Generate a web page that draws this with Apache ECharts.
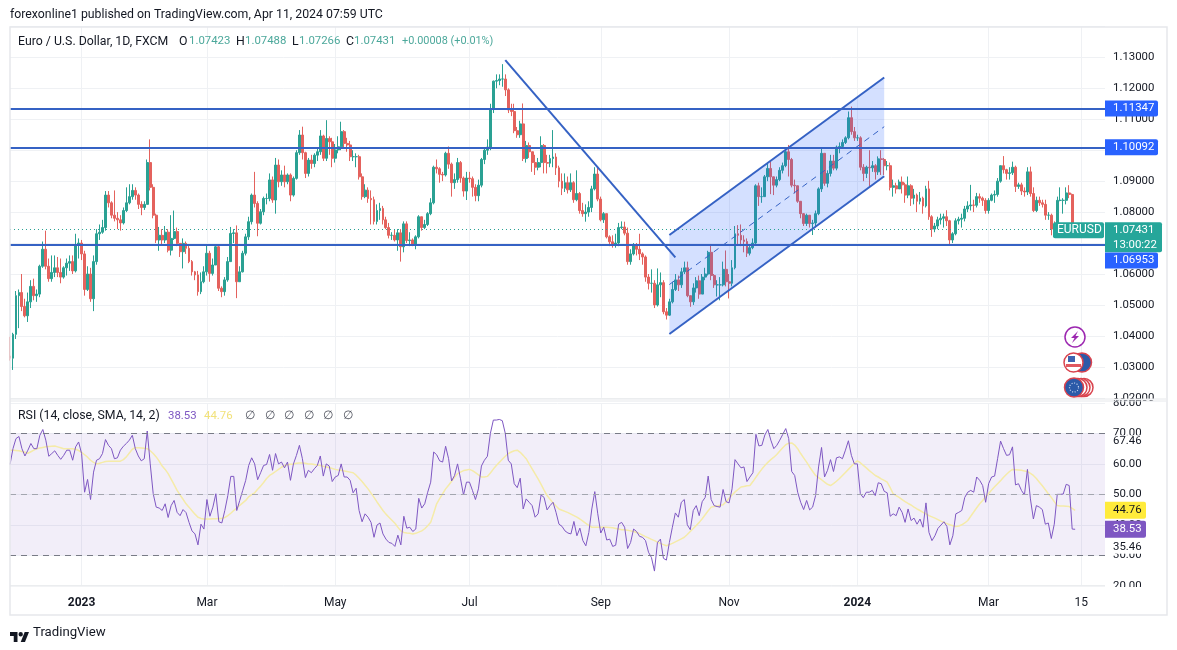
<!DOCTYPE html>
<html>
<head>
<meta charset="utf-8">
<title>EURUSD</title>
<style>
  html, body { margin: 0; padding: 0; background: #fff; }
  #main { width: 1177px; height: 650px; }
</style>
<script src="https://cdn.jsdelivr.net/npm/echarts@6/dist/echarts.min.js"></script>
</head>
<body>
<div id="main"></div>
<script>
// daily bars, first one is 2022-11-29
const opens = [
  1.0335,1.0328,1.0405,1.0530,1.0540,1.0495,1.0465,1.0510,1.0560,1.0530,
  1.0535,1.0625,1.0680,1.0625,1.0585,1.0605,1.0620,1.0605,1.0590,1.0620,
  1.0635,1.0640,1.0610,1.0695,1.0700,1.0665,1.0550,1.0600,1.0520,1.0640,
  1.0730,1.0735,1.0750,1.0855,1.0830,1.0790,1.0780,1.0775,1.0765,1.0805,
  1.0830,1.0850,1.0870,1.0855,1.0825,1.0815,1.0825,1.0960,1.0880,1.0790,
  1.0710,1.0725,1.0710,1.0735,1.0677,1.0715,1.0737,1.0699,1.0672,1.0699,
  1.0683,1.0640,1.0607,1.0597,1.0543,1.0575,1.0607,1.0667,1.0602,1.0629,
  1.0688,1.0554,1.0543,1.0581,1.0640,1.0731,1.0733,1.0575,1.0607,1.0667,
  1.0720,1.0769,1.0855,1.0828,1.0764,1.0801,1.0844,1.0844,1.0904,1.0839,
  1.0952,1.0898,1.0920,1.0898,1.0920,1.0855,1.0909,1.0992,1.1049,1.0992,
  1.0925,1.0968,1.0957,1.0984,1.0995,1.1046,1.0974,1.1038,1.1027,1.0974,
  1.1001,1.1011,1.1060,1.1022,1.1017,1.0979,1.0979,1.0979,1.0914,1.0850,
  1.0871,1.0844,1.0840,1.0770,1.0805,1.0812,1.0775,1.0750,1.0725,1.0725,
  1.0710,1.0733,1.0688,1.0762,1.0708,1.0710,1.0695,1.0720,1.0785,1.0750,
  1.0760,1.0795,1.0830,1.0945,1.0940,1.0922,1.0920,1.0990,1.0955,1.0895,
  1.0905,1.0960,1.0910,1.0868,1.0910,1.0908,1.0880,1.0853,1.0887,1.0970,
  1.1000,1.1010,1.1132,1.1223,1.1225,1.1230,1.1230,1.1195,1.1130,1.1125,
  1.1063,1.1050,1.1085,1.0973,1.1015,1.0995,1.0960,1.0945,1.0960,1.1015,
  1.0960,1.0958,1.0973,1.0978,1.0943,1.0900,1.0877,1.0895,1.0872,1.0895,
  1.0840,1.0860,1.0805,1.0795,1.0800,1.0815,1.0875,1.0923,1.0842,1.0775,
  1.0795,1.0720,1.0704,1.0695,1.0700,1.0750,1.0752,1.0732,1.0640,1.0665,
  1.0695,1.0680,1.0665,1.0655,1.0590,1.0570,1.0570,1.0500,1.0565,1.0572,
  1.0478,1.0467,1.0510,1.0550,1.0581,1.0565,1.0607,1.0620,1.0530,1.0510,
  1.0555,1.0578,1.0535,1.0590,1.0600,1.0670,1.0595,1.0565,1.0565,1.0565,
  1.0615,1.0575,1.0570,1.0620,1.0730,1.0725,1.0710,1.0705,1.0667,1.0685,
  1.0700,1.0885,1.0850,1.0850,1.0914,1.0941,1.0914,1.0887,1.0905,1.0935,
  1.0950,1.0995,1.0970,1.0887,1.0885,1.0835,1.0795,1.0763,1.0790,1.0763,
  1.0765,1.0795,1.0875,1.0990,1.0893,1.0925,1.0965,1.0942,1.1010,1.1012,
  1.1025,1.1040,1.1105,1.1060,1.1040,1.1040,1.0945,1.0925,1.0945,1.0943,
  1.0950,1.0930,1.0972,1.0970,1.0950,1.0950,1.0880,1.0885,1.0875,1.0897,
  1.0888,1.0855,1.0885,1.0845,1.0855,1.0835,1.0845,1.0820,1.0875,1.0785,
  1.0745,1.0755,1.0775,1.0780,1.0785,1.0772,1.0710,1.0730,1.0772,1.0777,
  1.0780,1.0810,1.0820,1.0823,1.0822,1.0850,1.0845,1.0838,1.0805,1.0838,
  1.0855,1.0857,1.0900,1.0950,1.0937,1.0925,1.0927,1.0945,1.0883,1.0888,
  1.0868,1.0865,1.0930,1.0860,1.0805,1.0838,1.0830,1.0825,1.0790,1.0790,
  1.0745,1.0742,1.0838,1.0838,1.0838,1.0862,1.0857,1.07423
];
const closes = [
  1.0328,1.0405,1.0530,1.0540,1.0495,1.0465,1.0510,1.0560,1.0530,1.0535,
  1.0625,1.0680,1.0625,1.0585,1.0605,1.0620,1.0605,1.0590,1.0620,1.0635,
  1.0640,1.0610,1.0695,1.0700,1.0665,1.0550,1.0600,1.0520,1.0640,1.0730,
  1.0735,1.0750,1.0855,1.0830,1.0790,1.0780,1.0775,1.0765,1.0805,1.0830,
  1.0850,1.0870,1.0855,1.0825,1.0815,1.0825,1.0960,1.0880,1.0790,1.0710,
  1.0725,1.0710,1.0735,1.0677,1.0715,1.0737,1.0699,1.0672,1.0699,1.0683,
  1.0640,1.0607,1.0597,1.0543,1.0575,1.0607,1.0667,1.0602,1.0629,1.0688,
  1.0554,1.0543,1.0581,1.0640,1.0731,1.0733,1.0575,1.0607,1.0667,1.0720,
  1.0769,1.0855,1.0828,1.0764,1.0801,1.0844,1.0844,1.0904,1.0839,1.0952,
  1.0898,1.0920,1.0898,1.0920,1.0855,1.0909,1.0992,1.1049,1.0992,1.0925,
  1.0968,1.0957,1.0984,1.0995,1.1046,1.0974,1.1038,1.1027,1.0974,1.1001,
  1.1011,1.1060,1.1022,1.1017,1.0979,1.0979,1.0979,1.0914,1.0850,1.0871,
  1.0844,1.0840,1.0770,1.0805,1.0812,1.0775,1.0750,1.0725,1.0725,1.0710,
  1.0733,1.0688,1.0762,1.0708,1.0710,1.0695,1.0720,1.0785,1.0750,1.0760,
  1.0795,1.0830,1.0945,1.0940,1.0922,1.0920,1.0990,1.0955,1.0895,1.0905,
  1.0960,1.0910,1.0868,1.0910,1.0908,1.0880,1.0853,1.0887,1.0970,1.1000,
  1.1010,1.1132,1.1223,1.1225,1.1230,1.1230,1.1195,1.1130,1.1125,1.1063,
  1.1050,1.1085,1.0973,1.1015,1.0995,1.0960,1.0945,1.0960,1.1015,1.0960,
  1.0958,1.0973,1.0978,1.0943,1.0900,1.0877,1.0895,1.0872,1.0895,1.0840,
  1.0860,1.0805,1.0795,1.0800,1.0815,1.0875,1.0923,1.0842,1.0775,1.0795,
  1.0720,1.0704,1.0695,1.0700,1.0750,1.0752,1.0732,1.0640,1.0665,1.0695,
  1.0680,1.0665,1.0655,1.0590,1.0570,1.0570,1.0500,1.0565,1.0572,1.0478,
  1.0467,1.0510,1.0550,1.0581,1.0565,1.0607,1.0620,1.0530,1.0510,1.0555,
  1.0578,1.0535,1.0590,1.0600,1.0670,1.0595,1.0565,1.0565,1.0565,1.0615,
  1.0575,1.0570,1.0620,1.0730,1.0725,1.0710,1.0705,1.0667,1.0685,1.0700,
  1.0885,1.0850,1.0850,1.0914,1.0941,1.0914,1.0887,1.0905,1.0935,1.0950,
  1.0995,1.0970,1.0887,1.0885,1.0835,1.0795,1.0763,1.0790,1.0763,1.0765,
  1.0795,1.0875,1.0990,1.0893,1.0925,1.0965,1.0942,1.1010,1.1012,1.1025,
  1.1040,1.1105,1.1060,1.1040,1.1040,1.0945,1.0925,1.0945,1.0943,1.0950,
  1.0930,1.0972,1.0970,1.0950,1.0950,1.0880,1.0885,1.0875,1.0897,1.0888,
  1.0855,1.0885,1.0845,1.0855,1.0835,1.0845,1.0820,1.0875,1.0785,1.0745,
  1.0755,1.0775,1.0780,1.0785,1.0772,1.0710,1.0730,1.0772,1.0777,1.0780,
  1.0810,1.0820,1.0823,1.0822,1.0850,1.0845,1.0838,1.0805,1.0838,1.0855,
  1.0857,1.0900,1.0950,1.0937,1.0925,1.0927,1.0945,1.0883,1.0888,1.0868,
  1.0865,1.0930,1.0860,1.0805,1.0838,1.0830,1.0825,1.0790,1.0790,1.0745,
  1.0742,1.0838,1.0838,1.0838,1.0862,1.0857,1.07423,1.07431
];
const highs = [
  1.0397,1.0410,1.0545,1.0550,1.0600,1.0520,1.0540,1.0580,1.0585,1.0550,
  1.0630,1.0705,1.0740,1.0650,1.0660,1.0660,1.0655,1.0650,1.0625,1.0650,
  1.0660,1.0660,1.0730,1.0715,1.0710,1.0675,1.0625,1.0620,1.0660,1.0745,
  1.0760,1.0775,1.0868,1.0868,1.0835,1.0870,1.0800,1.0790,1.0815,1.0880,
  1.0890,1.0890,1.0880,1.0860,1.0835,1.0835,1.0970,1.1035,1.0890,1.0795,
  1.0752,1.0745,1.0755,1.0745,1.0790,1.0805,1.0750,1.0700,1.0715,1.0705,
  1.0695,1.0645,1.0610,1.0610,1.0605,1.0625,1.0695,1.0675,1.0650,1.0695,
  1.0695,1.0560,1.0590,1.0655,1.0752,1.0745,1.0757,1.0625,1.0675,1.0730,
  1.0785,1.0860,1.0930,1.0835,1.0810,1.0850,1.0860,1.0925,1.0915,1.0975,
  1.0970,1.0935,1.0950,1.0925,1.0925,1.0915,1.1000,1.1065,1.1076,1.0995,
  1.0975,1.0985,1.0990,1.1005,1.1065,1.1050,1.1097,1.1045,1.1040,1.1020,
  1.1045,1.1092,1.1065,1.1040,1.1030,1.1000,1.0990,1.0985,1.0925,1.0890,
  1.0880,1.0870,1.0850,1.0825,1.0830,1.0820,1.0785,1.0765,1.0735,1.0745,
  1.0745,1.0745,1.0770,1.0770,1.0735,1.0715,1.0725,1.0790,1.0785,1.0775,
  1.0800,1.0845,1.0950,1.0970,1.0945,1.0930,1.0995,1.1012,1.0960,1.0925,
  1.0975,1.0965,1.0915,1.0930,1.0930,1.0915,1.0890,1.0905,1.0975,1.1005,
  1.1035,1.1150,1.1225,1.1245,1.1245,1.1278,1.1245,1.1200,1.1150,1.1150,
  1.1075,1.1095,1.1151,1.1030,1.1025,1.0995,1.0985,1.0975,1.1045,1.1020,
  1.0985,1.0985,1.1065,1.0990,1.0950,1.0925,1.0925,1.0915,1.0925,1.0900,
  1.0935,1.0865,1.0830,1.0825,1.0835,1.0885,1.0945,1.0947,1.0850,1.0800,
  1.0795,1.0725,1.0725,1.0730,1.0765,1.0770,1.0769,1.0750,1.0680,1.0700,
  1.0700,1.0730,1.0670,1.0660,1.0600,1.0615,1.0580,1.0618,1.0605,1.0580,
  1.0490,1.0520,1.0575,1.0600,1.0595,1.0620,1.0640,1.0640,1.0530,1.0570,
  1.0590,1.0595,1.0600,1.0620,1.0675,1.0697,1.0600,1.0580,1.0590,1.0640,
  1.0676,1.0600,1.0645,1.0755,1.0758,1.0760,1.0725,1.0715,1.0695,1.0715,
  1.0890,1.0895,1.0880,1.0920,1.0960,1.0968,1.0900,1.0915,1.0945,1.0960,
  1.1000,1.1017,1.0975,1.0905,1.0860,1.0810,1.0785,1.0795,1.0780,1.0775,
  1.0805,1.0880,1.1009,1.0990,1.0935,1.0985,1.0985,1.1015,1.1025,1.1035,
  1.1045,1.1125,1.1141,1.1075,1.1050,1.1045,1.0955,1.0950,1.1000,1.0965,
  1.0955,1.0980,1.1000,1.0975,1.0965,1.0960,1.0905,1.0895,1.0905,1.0915,
  1.0895,1.0915,1.0890,1.0875,1.0860,1.0865,1.0850,1.0885,1.0901,1.0790,
  1.0765,1.0785,1.0795,1.0795,1.0806,1.0775,1.0735,1.0780,1.0785,1.0795,
  1.0820,1.0835,1.0888,1.0840,1.0862,1.0860,1.0850,1.0845,1.0845,1.0860,
  1.0870,1.0910,1.0950,1.0981,1.0940,1.0945,1.0963,1.0950,1.0895,1.0895,
  1.0880,1.0945,1.0947,1.0880,1.0850,1.0850,1.0840,1.0840,1.0800,1.0795,
  1.0770,1.0850,1.0880,1.0845,1.0880,1.0887,1.0860,1.07488
];
const lows = [
  1.0320,1.0290,1.0390,1.0425,1.0480,1.0460,1.0445,1.0490,1.0515,1.0510,
  1.0525,1.0620,1.0615,1.0575,1.0575,1.0590,1.0590,1.0570,1.0585,1.0595,
  1.0610,1.0600,1.0605,1.0650,1.0645,1.0530,1.0545,1.0510,1.0480,1.0630,
  1.0710,1.0730,1.0740,1.0815,1.0780,1.0770,1.0745,1.0740,1.0760,1.0800,
  1.0825,1.0840,1.0840,1.0810,1.0790,1.0807,1.0825,1.0870,1.0780,1.0700,
  1.0675,1.0695,1.0700,1.0670,1.0660,1.0710,1.0690,1.0655,1.0618,1.0665,
  1.0635,1.0595,1.0580,1.0530,1.0535,1.0570,1.0595,1.0575,1.0595,1.0630,
  1.0545,1.0525,1.0530,1.0575,1.0640,1.0700,1.0522,1.0575,1.0605,1.0660,
  1.0710,1.0760,1.0815,1.0722,1.0760,1.0790,1.0825,1.0835,1.0830,1.0795,
  1.0880,1.0885,1.0880,1.0890,1.0835,1.0850,1.0905,1.0985,1.0970,1.0910,
  1.0915,1.0940,1.0945,1.0965,1.0985,1.0965,1.0965,1.0985,1.0945,1.0960,
  1.0990,1.1000,1.1010,1.0995,1.0965,1.0965,1.0945,1.0905,1.0840,1.0845,
  1.0830,1.0760,1.0760,1.0760,1.0775,1.0760,1.0745,1.0715,1.0710,1.0705,
  1.0675,1.0640,1.0670,1.0700,1.0690,1.0690,1.0680,1.0715,1.0740,1.0745,
  1.0755,1.0790,1.0825,1.0925,1.0895,1.0900,1.0915,1.0940,1.0850,1.0875,
  1.0895,1.0895,1.0850,1.0839,1.0895,1.0850,1.0835,1.0835,1.0880,1.0955,
  1.0985,1.1000,1.1120,1.1200,1.1210,1.1205,1.1175,1.1120,1.1110,1.1055,
  1.1040,1.1040,1.0965,1.0960,1.0975,1.0930,1.0920,1.0935,1.0945,1.0925,
  1.0925,1.0945,1.0945,1.0920,1.0880,1.0855,1.0865,1.0860,1.0865,1.0830,
  1.0835,1.0795,1.0785,1.0769,1.0785,1.0800,1.0870,1.0835,1.0770,1.0765,
  1.0715,1.0690,1.0685,1.0685,1.0690,1.0745,1.0725,1.0630,1.0630,1.0660,
  1.0660,1.0645,1.0630,1.0575,1.0550,1.0540,1.0490,1.0495,1.0525,1.0470,
  1.0453,1.0465,1.0505,1.0545,1.0545,1.0555,1.0600,1.0525,1.0494,1.0500,
  1.0540,1.0520,1.0535,1.0580,1.0595,1.0580,1.0555,1.0527,1.0515,1.0560,
  1.0560,1.0521,1.0560,1.0615,1.0695,1.0690,1.0670,1.0655,1.0660,1.0680,
  1.0695,1.0820,1.0830,1.0858,1.0900,1.0858,1.0855,1.0880,1.0900,1.0925,
  1.0945,1.0915,1.0880,1.0860,1.0830,1.0780,1.0755,1.0755,1.0750,1.0726,
  1.0755,1.0790,1.0865,1.0885,1.0880,1.0915,1.0935,1.0935,1.0990,1.1005,
  1.1020,1.1035,1.1050,1.1030,1.1030,1.0935,1.0900,1.0910,1.0882,1.0930,
  1.0905,1.0920,1.0920,1.0920,1.0935,1.0870,1.0850,1.0860,1.0880,1.0860,
  1.0830,1.0845,1.0820,1.0825,1.0800,1.0825,1.0795,1.0815,1.0775,1.0720,
  1.0735,1.0745,1.0760,1.0750,1.0755,1.0695,1.0700,1.0725,1.0760,1.0750,
  1.0770,1.0800,1.0805,1.0800,1.0815,1.0830,1.0820,1.0795,1.0795,1.0835,
  1.0830,1.0850,1.0895,1.0925,1.0905,1.0905,1.0920,1.0865,1.0875,1.0855,
  1.0850,1.0855,1.0850,1.0800,1.0800,1.0820,1.0815,1.0775,1.0775,1.0725,
  1.0725,1.0735,1.0835,1.0795,1.0825,1.0845,1.0735,1.07266
];
const rsiValues = [
  59.8,65,68.3,69,65,62.6,64.5,66.7,65,65,
  69.4,71.3,67.8,62.5,63.4,64.3,62.8,61.5,62.8,64.5,
  64.5,61.2,65.6,67.2,63.4,50.7,54.9,48.3,57.3,61.2,
  61.7,63.4,68,66.1,65,61.7,62,64.5,65.8,66.7,
  67.8,69.4,65,62.6,61,61.7,70.8,60,50.2,45.8,
  45.5,44.7,46.9,42.4,46.3,48,44.1,43,45,44,
  40.8,38,37,33.4,40.2,38.6,48.3,42.8,45.8,50.2,
  41,40.6,44.7,49.6,55.9,55.9,44.7,48,51.3,54.6,
  59.5,62,60,54.8,57.1,59.5,59.8,63.1,57.9,63.4,
  60,60.6,58.7,60.6,54.6,60,62.8,66.1,61.7,55.5,
  57.9,57.1,58.4,59.5,62.6,56,60,59.3,54.2,55.7,
  56.2,60,55.7,55.7,54.6,50.5,52,44.7,41,43.6,
  42.5,40.8,35.9,39.9,40.6,37,35.3,34.2,33.9,32.9,
  36.6,33.4,42.8,38.9,39.2,37.8,38.6,48.7,45.5,46.9,
  50.7,54,63.9,63,61,60.6,65.8,61.7,54.4,56.2,
  60,55.1,49.8,54,54,51.3,48.3,51.8,59.3,61.2,
  62.5,70,74.4,74.4,74.6,74.2,70,61.2,60,53.5,
  52.2,55.3,45.2,48.5,47.4,46.3,42.5,43.6,49.8,49,
  44.9,46.3,47.4,44.1,40.2,39.5,38,37.3,37,41.1,
  36.4,38.9,34.8,33.1,37.5,45.2,50.9,43.6,37.3,39.2,
  35,35.3,32.9,33.3,40.2,40.8,39.2,32.2,34.2,38.6,
  37.8,36.2,35.9,34.8,31,29.2,24.8,34.2,35.3,29,
  28.4,34.2,39.2,43.9,42.5,47.4,48.3,40,38.4,44.7,
  46.3,43,47.6,49,56,48.3,46.3,46,45.8,51.6,
  47.6,47.2,51.8,61.4,60,58.7,59,54.2,55.7,57.1,
  69.7,65.9,66.1,69.5,71.3,67.8,65,66.1,67.8,69.7,
  71.6,68.3,57.5,56.2,50.7,47.4,45,48,44.9,45.8,
  49.6,59,65.4,55.7,57.9,61.4,57.5,62,62.3,61.7,
  64.5,67.6,62.8,60,60,50.2,48.9,50.7,50.7,51.3,
  49.6,53.8,53.5,51,50.5,42.8,43.6,43,45.8,44.1,
  40.8,45.2,41.4,42.2,40.2,41.9,39.2,47.2,37.5,34.8,
  36.4,38.8,39.9,41,39.5,33.4,36.4,43.6,44.1,44.7,
  49,50.7,51.3,50.7,55.7,54.6,52.9,47.4,53.5,55.7,
  56,61.7,67.5,65,62.8,63,65.6,53.1,53.5,51.3,
  49.8,58.2,48.5,41.9,46.3,45.8,45,40.2,40.6,35.5,
  40.2,50,50,50.1,53.3,52.9,38.6,38.53
];
const rsiSma = [
  64.5,64.5,64.4,64.3,64.1,63.8,63.5,64,64.5,65,
  65.2,65.4,65.6,65.7,65.8,65.9,65.6,65.3,65,65,
  65,65,64.8,64.4,63.8,63,62.2,61.2,60.5,60,
  60.2,60.5,60.8,60.9,60.9,60.9,60.9,60.9,61.4,62.3,
  63.6,64.8,65.3,65.3,65.2,65.1,65,64.3,63.4,62.3,
  60.9,59.3,58.2,56.8,55,53.2,51.3,49.8,48.4,46.9,
  45.8,44.6,43.5,42.5,42.1,41.9,41.9,41.9,42,42,
  42.1,42.1,42.4,43,43.8,44.7,45.5,46.4,47.2,48,
  49.2,49.9,50.5,51.7,52.7,53.9,55.2,56.2,56.8,57.5,
  58.2,58.9,59.5,59.7,59.9,60,60.2,60.3,60.3,60.2,
  60,60,59.8,59.6,59.5,59.2,59,58.8,58.5,58.2,
  58,57.9,57.7,57.5,57.3,57.1,56.3,55.3,54.2,53,
  51.8,50.4,49,47.5,46.1,44.7,43.5,42.5,41.5,40.5,
  39.2,38,37.5,37.3,37.2,37,37.2,37.6,38,38.7,
  39.7,40.8,43.8,46.9,48.6,50.2,51.8,53,54.3,55.6,
  56.8,57.3,57.8,58,58.2,57.8,57.1,56.4,55.7,55.7,
  55.9,57,58.3,59.5,60.5,61.5,62.5,63.4,63.9,64.3,
  64.5,63.8,62.8,61.7,60,58.4,56.7,55.1,53.3,51.4,
  49.6,48.4,47.2,46.2,45.2,44.8,44.4,44,43.5,43,
  42.5,41.9,41.2,40.5,39.8,39.2,39.2,39.2,39.2,39.2,
  39.2,39.1,39,38.8,38.6,38.4,38.4,38.2,38,37.8,
  37.5,37.1,36.6,36.1,35.7,35.2,34.8,34.3,33.9,33.5,
  33.1,33.5,33.9,34.4,34.9,35.4,35.9,36.8,37.8,38.8,
  39.8,40.8,42,43.3,44.6,45.8,46,46.2,46.4,46.6,
  47.6,48.7,49.8,50.8,51.6,52.4,52.6,52.8,52.9,54.2,
  55.6,57,58.3,59.5,60.5,61.4,62.2,63.1,64.2,65.3,
  66.3,66.8,66.9,66.2,65,63.4,62,60.6,59,57.6,
  56.2,55.5,54.8,54,53.3,52.9,53.5,54.3,55.2,56.2,
  57.2,58.2,59.2,60.2,61,60.4,59.5,58.7,57.8,57,
  56.2,55.7,55.1,54.6,54,52.2,50.2,49.6,49,48.3,
  47.6,47,46.5,45.8,45.2,44.7,44.1,43.6,43,42.6,
  42.2,41.7,41.2,40.8,40.4,40,39.7,39.4,39.6,40,
  40.6,41.4,42.8,44.2,45.6,46.9,48,49.2,50.3,51.4,
  52.5,53.5,54.5,55.6,56.6,57.5,58.2,58.1,58,57.9,
  57.7,57.5,56.9,56.2,55.2,54,52.8,51.5,50.2,49,
  47.6,46.3,46.2,46.2,46.1,46,45.4,44.76
];

// the time scale runs 10 weekdays past the last bar
const firstDay = Date.UTC(2022, 10, 29);
const categories = [];
for (let d = firstDay; categories.length < 368; d += 86400000) {
  const day = new Date(d);
  if (day.getUTCDay() !== 0 && day.getUTCDay() !== 6) categories.push(day.toISOString().slice(0, 10));
}
const timeTicks = {
  '2023-01-02': '2023', '2023-03-01': 'Mar', '2023-05-01': 'May', '2023-07-03': 'Jul', '2023-09-01': 'Sep',
  '2023-11-01': 'Nov', '2024-01-01': '2024', '2024-03-01': 'Mar', '2024-04-15': '15'
};

// drawings on the chart
const levels = [1.11347, 1.10092, 1.06953];
const lastClose = 1.07431;
const trendBars = [166, 223];
const trendPrices = [1.1291, 1.0654];
const channelBars = [221, 293];
const channelTop = [1.0726, 1.1235];
const channelMid = [1.0566, 1.1076];
const channelBottom = [1.0406, 1.0916];

const FONT = 'Roboto, sans-serif';
const SCALE_SIZE = 11.4;
const TEXT = '#131722';
const UP = '#2AA193';
const DOWN = '#E4625D';
const BLUE = '#3562C4';
const TAG_BLUE = '#2962FF';
const GRID = '#EFF1F4';

const chart = echarts.init(document.getElementById('main'));

function segment(bars, a, b) {
  return [{ coord: [categories[bars[0]], a] }, { coord: [categories[bars[1]], b] }];
}

chart.setOption({
  animation: false,
  textStyle: { fontFamily: FONT },
  grid: [
    { left: 10, width: 1095, top: 26.4, height: 371.4 },
    { left: 10, width: 1095, top: 403, height: 182.7 }
  ],
  xAxis: [
    {
      type: 'category', gridIndex: 0, data: categories, boundaryGap: false,
      axisLine: { show: false }, axisTick: { show: false }, axisLabel: { show: false },
      splitLine: { show: true, interval: (i, v) => v in timeTicks, lineStyle: { color: GRID } }
    },
    {
      type: 'category', gridIndex: 1, data: categories, boundaryGap: false,
      axisLine: { show: false }, axisTick: { show: false },
      axisLabel: {
        interval: (i, v) => v in timeTicks,
        formatter: v => {
          const t = timeTicks[v];
          return t && t.length === 4 ? '{y|' + t + '}' : t;
        },
        color: TEXT, fontSize: 12, margin: 11,
        rich: { y: { fontWeight: 'bold', fontSize: 12, color: TEXT, fontFamily: FONT } }
      },
      splitLine: { show: true, interval: (i, v) => v in timeTicks, lineStyle: { color: GRID } }
    }
  ],
  yAxis: [
    {
      type: 'value', gridIndex: 0, position: 'right', min: 1.02, max: 1.14, interval: 0.01,
      axisLine: { show: false }, axisTick: { show: false },
      axisLabel: { color: TEXT, fontSize: SCALE_SIZE, margin: 8, formatter: v => v > 1.135 ? '' : v.toFixed(5) },
      splitLine: { lineStyle: { color: GRID } }
    },
    {
      type: 'value', gridIndex: 1, position: 'right', min: 20, max: 80, interval: 10,
      axisLine: { show: false }, axisTick: { show: false },
      axisLabel: { color: TEXT, fontSize: SCALE_SIZE, margin: 8, formatter: v => v.toFixed(2) },
      splitLine: { lineStyle: { color: GRID } }
    }
  ],
  series: [
    {
      type: 'candlestick', xAxisIndex: 0, yAxisIndex: 0, barWidth: 2.4,
      data: closes.map((c, i) => [opens[i], c, lows[i], highs[i]]),
      itemStyle: { color: UP, color0: DOWN, borderColor: UP, borderColor0: DOWN, borderWidth: 1 },
      markLine: {
        silent: true, symbol: 'none', label: { show: false }, animation: false, precision: 5,
        lineStyle: { color: BLUE, width: 2, type: 'solid' },
        data: levels.map(v => ({ yAxis: v })).concat([
          { yAxis: lastClose, lineStyle: { color: UP, width: 1, type: [1, 3] } },
          segment(trendBars, trendPrices[0], trendPrices[1]),
          segment(channelBars, channelTop[0], channelTop[1]),
          segment(channelBars, channelBottom[0], channelBottom[1]),
          segment(channelBars, channelMid[0], channelMid[1]).map((p, i) => i ? p : Object.assign(p, { lineStyle: { width: 1, type: [6, 5], color: BLUE } }))
        ])
      }
    },
    {
      // channel fill
      type: 'custom', xAxisIndex: 0, yAxisIndex: 0, silent: true, z: 3,
      data: channelBars.map((b, i) => [b, channelTop[i], channelBottom[i]]),
      encode: { x: 0, y: [1, 2] },
      renderItem: (params, api) => {
        if (params.dataIndex !== 0) return null;
        const pts = [
          api.coord([channelBars[0], channelTop[0]]), api.coord([channelBars[1], channelTop[1]]),
          api.coord([channelBars[1], channelBottom[1]]), api.coord([channelBars[0], channelBottom[0]])
        ];
        return { type: 'polygon', shape: { points: pts }, style: { fill: 'rgba(41,98,255,0.2)' } };
      }
    },
    {
      name: 'RSI', type: 'line', xAxisIndex: 1, yAxisIndex: 1, data: rsiValues,
      showSymbol: false, z: 4,
      lineStyle: { color: '#7E57C2', width: 1 },
      markArea: { silent: true, itemStyle: { color: 'rgba(126,87,194,0.1)' }, data: [[{ yAxis: 70 }, { yAxis: 30 }]] },
      markLine: {
        silent: true, symbol: 'none', label: { show: false }, animation: false,
        lineStyle: { color: '#787B86', width: 1, type: [6, 5] },
        data: [{ yAxis: 70 }, { yAxis: 50, lineStyle: { color: '#A3A6AF' } }, { yAxis: 30 }]
      }
    },
    {
      name: 'RSI SMA', type: 'line', xAxisIndex: 1, yAxisIndex: 1, data: rsiSma,
      showSymbol: false, z: 3,
      lineStyle: { color: '#F5EBA8', width: 1.5 }
    }
  ]
});

// tags on the price scale, placed with the axes; the 1.06953 tag is pushed down by the last price tag
const priceTags = [
  { value: 1.11347, text: '1.11347', bg: TAG_BLUE, fg: '#fff', w: 53, h: 16 },
  { value: 1.10092, text: '1.10092', bg: TAG_BLUE, fg: '#fff', w: 53, h: 16 },
  { value: 1.0644, text: '1.06953', bg: TAG_BLUE, fg: '#fff', w: 53, h: 16 }
];
const rsiTags = [
  { value: 67.46, text: '67.46', bg: '#fff', fg: TEXT, w: 45, h: 12 },
  { value: 32.5, text: '35.46', bg: '#fff', fg: TEXT, w: 45, h: 12 },
  { value: 44.76, text: '44.76', bg: '#FFEB3B', fg: TEXT, w: 41, h: 17 },
  { value: 38.53, text: '38.53', bg: '#7E57C2', fg: '#fff', w: 41, h: 17 }
];

function label(x, y, text, color, extra) {
  return {
    type: 'text', x, y, z: 120, silent: true,
    style: Object.assign({ text, fill: color, font: '12.3px ' + FONT, textVerticalAlign: 'middle' }, extra || {})
  };
}
function small(x, y, text, color) {
  return label(x, y, text, color, { font: SCALE_SIZE + 'px ' + FONT });
}
function tag(t, gridIdx) {
  const y = chart.convertToPixel({ yAxisIndex: gridIdx }, t.value);
  return [
    { type: 'rect', z: 110, silent: true, shape: { x: 1105, y: y - t.h / 2, width: t.w, height: t.h, r: [0, 2, 2, 0] }, style: { fill: t.bg } },
    small(1113, y, t.text, t.fg)
  ];
}
function ring(cx, cy, r, fill) {
  return { type: 'circle', z: 115, silent: true, shape: { cx, cy, r }, style: { fill, stroke: '#D9434E', lineWidth: 1.5 } };
}
// logo pieces in the mark's own 36 unit box
function logoPart(points) {
  return {
    type: 'polygon', z: 100, silent: true,
    shape: { points: points.map(p => [10 + p[0] * 0.535, 632 + (p[1] - 7) * 0.555]) },
    style: { fill: '#131722' }
  };
}

const lastY = chart.convertToPixel({ yAxisIndex: 0 }, lastClose);
const green = '#4CA89B';
const graphics = [
  // frame and pane edges
  { type: 'rect', z: 90, silent: true, shape: { x: 10, y: 27, width: 1157, height: 588 }, style: { fill: 'none', stroke: '#E6E8EB', lineWidth: 1.5 } },
  { type: 'rect', z: 100, silent: true, shape: { x: 1105, y: 399, width: 61, height: 1 }, style: { fill: '#fff' } },
  { type: 'rect', z: 105, silent: true, shape: { x: 1105, y: 587, width: 61, height: 8 }, style: { fill: '#fff' } },
  { type: 'line', z: 106, silent: true, shape: { x1: 10, y1: 399, x2: 1166, y2: 399 }, style: { stroke: '#E6E8EB', lineWidth: 1 } },
  { type: 'line', z: 106, silent: true, shape: { x1: 10, y1: 401, x2: 1166, y2: 401 }, style: { stroke: '#E6E8EB', lineWidth: 1 } },
  { type: 'line', z: 106, silent: true, shape: { x1: 10, y1: 586, x2: 1105, y2: 586 }, style: { stroke: '#E6E8EB', lineWidth: 1 } },

  // header lines
  label(10, 15, 'forexonline1 published on TradingView.com, Apr 11, 2024 07:59 UTC', TEXT),
  label(18, 41.5, 'Euro / U.S. Dollar, 1D, FXCM', TEXT),
  label(179, 41.5, 'O', TEXT), small(189, 41.5, '1.07423', green),
  label(236, 41.5, 'H', TEXT), small(245, 41.5, '1.07488', green),
  label(292, 41.5, 'L', TEXT), small(299, 41.5, '1.07266', green),
  label(346, 41.5, 'C', TEXT), small(354, 41.5, '1.07431', green),
  label(402, 41.5, '+0.00008 (+0.01%)', green, { font: '10.9px ' + FONT }),

  // RSI legend
  label(18, 416, 'RSI (14, close, SMA, 14, 2)', TEXT),
  small(168, 416, '38.53', '#7E57C2'),
  small(204, 416, '44.76', '#F2E27A'),
  label(245, 416, '\u2205', '#50535E'), label(265, 416, '\u2205', '#50535E'), label(284, 416, '\u2205', '#50535E'),
  label(304, 416, '\u2205', '#50535E'), label(323, 416, '\u2205', '#50535E'), label(343, 416, '\u2205', '#50535E'),

  // last price
  { type: 'rect', z: 110, silent: true, shape: { x: 1053, y: lastY - 7.5, width: 51, height: 16, r: 2 }, style: { fill: '#26A69A' } },
  label(1057, lastY + 0.5, 'EURUSD', '#fff', { font: '12px ' + FONT }),
  { type: 'rect', z: 110, silent: true, shape: { x: 1105, y: lastY - 7.5, width: 57, height: 30, r: [0, 2, 2, 0] }, style: { fill: '#26A69A' } },
  small(1113, lastY, '1.07431', '#fff'),
  small(1113, lastY + 15, '13:00:22', '#fff'),

  // badges
  { type: 'circle', z: 115, silent: true, shape: { cx: 1075, cy: 337, r: 10 }, style: { fill: '#fff', stroke: '#9C27B0', lineWidth: 1.5 } },
  { type: 'polygon', z: 116, silent: true, shape: { points: [[1078, 331], [1071, 338], [1074.5, 338], [1072, 343], [1079, 336], [1075.5, 336]] }, style: { fill: '#9C27B0' } },
  ring(1082, 362.5, 9.5, '#2B5AA8'), ring(1073.5, 362.5, 9.5, '#fff'),
  { type: 'rect', z: 116, silent: true, shape: { x: 1066, y: 364, width: 15, height: 3 }, style: { fill: '#E0575F' } },
  { type: 'rect', z: 116, silent: true, shape: { x: 1068, y: 356, width: 7, height: 6 }, style: { fill: '#3D63B0' } },
  ring(1084, 387.5, 9, '#fff'), ring(1081, 387.5, 9, '#fff'), ring(1078, 387.5, 9, '#fff'), ring(1074, 387.5, 9.5, '#2B5AA8'),
  { type: 'circle', z: 116, silent: true, shape: { cx: 1074, cy: 387.5, r: 4.5 }, style: { fill: 'none', stroke: '#C9D6F0', lineWidth: 1.2, lineDash: [1, 1.6] } },

  // footer logo
  logoPart([[0, 7], [14, 7], [14, 25], [7, 25], [7, 14], [0, 14]]),
  logoPart([[20, 25], [27.5, 7], [35.5, 7], [28, 25]]),
  { type: 'circle', z: 100, silent: true, shape: { cx: 10 + 20 * 0.535, cy: 632 + 4 * 0.555, r: 2.2 }, style: { fill: '#131722' } },
  label(33, 632.5, 'TradingView', '#131722', { font: '13.2px ' + FONT })
];
priceTags.forEach(t => graphics.push(...tag(t, 0)));
rsiTags.forEach(t => graphics.push(...tag(t, 1)));

chart.setOption({ graphic: { elements: graphics } });
</script>
</body>
</html>
